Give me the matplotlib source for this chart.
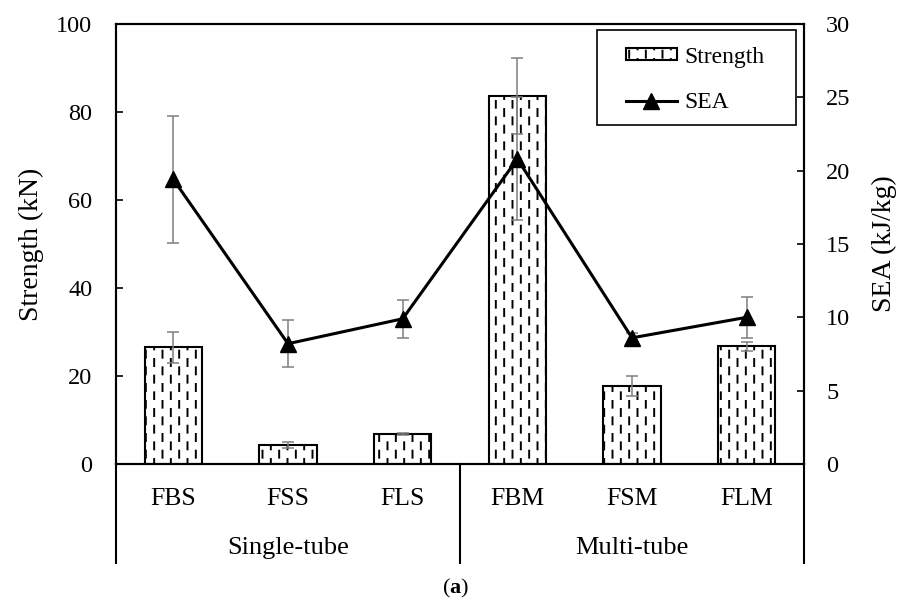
import numpy as np
import matplotlib
matplotlib.use('Agg')
import matplotlib.pyplot as plt
import matplotlib.transforms as mtransforms
from matplotlib import hatch as mhatch
from matplotlib.path import Path
from matplotlib.patches import Patch, Rectangle
from matplotlib.lines import Line2D

specimens = ['FBS', 'FSS', 'FLS', 'FBM', 'FSM', 'FLM']
groups = ['Single-tube', 'Multi-tube']
strength = [26.5, 4.4, 6.8, 83.7, 17.7, 26.7]        # kN
strength_err = [3.5, 0.7, 0.2, 8.6, 2.2, 1.1]
sea = [19.4, 8.2, 9.9, 20.8, 8.6, 10.0]              # kJ/kg
sea_err = [4.35, 1.6, 1.3, 4.2, 0.3, 1.4]


# '|' hatch drawn as short staggered vertical dashes
class DashedVerticalHatch(mhatch.HatchPatternBase):
    def __init__(self, hatch, density):
        self.num_cols = int(hatch.count('|') * density)
        self.num_rows = max(self.num_cols // 2, 1)
        self.num_vertices = self.num_cols * self.num_rows * 2 if self.num_cols else 0

    def set_vertices_and_codes(self, vertices, codes):
        period = 1.0 / self.num_rows
        dash = 0.42 * period
        k = 0
        for i in range(self.num_cols):
            x = (i + 0.5) / self.num_cols
            off = (i % 2) * period / 2
            for r in range(self.num_rows):
                y0 = r * period + off + 0.04 * period
                vertices[k] = (x, y0)
                vertices[k + 1] = (x, y0 + dash)
                codes[k] = Path.MOVETO
                codes[k + 1] = Path.LINETO
                k += 2


mhatch._hatch_types[mhatch._hatch_types.index(mhatch.VerticalHatch)] = DashedVerticalHatch

plt.rcParams['font.family'] = 'Liberation Serif'
plt.rcParams['hatch.linewidth'] = 1.4
plt.rcParams['mathtext.fontset'] = 'custom'
plt.rcParams['mathtext.bf'] = 'Liberation Serif:bold'

x = np.arange(len(specimens))

fig = plt.figure(figsize=(9.05, 6.05), dpi=100)
ax = fig.add_axes([0.1282, 0.2331, 0.7602, 0.7273])

ax.bar(x, strength, width=0.5, color='white', edgecolor='black', linewidth=1.5,
       hatch='||', zorder=2)
ax.errorbar(x, strength, yerr=strength_err, fmt='none', ecolor='#7f7f7f',
            elinewidth=1.1, capsize=4, capthick=1.1, zorder=3)
ax.set_xlim(-0.5, 5.5)
ax.set_ylim(0, 100)
ax.set_yticks(np.arange(0, 101, 20))
ax.set_xticks(x)
ax.set_xticklabels(specimens)
ax.tick_params(axis='x', length=0, labelsize=18.5, pad=17)
ax.tick_params(axis='y', direction='in', length=5, width=1.2, labelsize=17.5, pad=17)
ax.set_ylabel('Strength (kN)', fontsize=20)
ax.yaxis.set_label_coords(-0.104, 0.5)

ax2 = ax.twinx()
ax2.errorbar(x, sea, yerr=sea_err, fmt='none', ecolor='#7f7f7f',
             elinewidth=1.1, capsize=4, capthick=1.1, zorder=2)
ax2.plot(x, sea, color='black', linewidth=2.2, marker='^', markersize=11.5, zorder=3)
ax2.set_ylim(0, 30)
ax2.set_yticks(np.arange(0, 31, 5))
ax2.tick_params(axis='y', direction='in', length=5, width=1.2, labelsize=17.5, pad=16)
ax2.set_ylabel('SEA (kJ/kg)', fontsize=20)
ax2.yaxis.set_label_coords(1.099, 0.5)

for a in (ax, ax2):
    for s in a.spines.values():
        s.set_linewidth(1.5)
        s.set_color('black')

# group boxes under the category labels
trans = mtransforms.blended_transform_factory(ax.transData, ax.transAxes)
for xv in (-0.5, 2.5, 5.5):
    ax.plot([xv, xv], [0, -0.225], transform=trans, color='black',
            linewidth=1.5, clip_on=False)
for gx, name in zip((1, 4), groups):
    ax.text(gx, -0.191, name, transform=trans, ha='center', va='center', fontsize=19)

# legend with a wide square box
ax2.add_patch(Rectangle((0.699, 0.770), 0.289, 0.216, transform=ax2.transAxes,
                        facecolor='white', edgecolor='black', linewidth=1.2, zorder=4))
handles = [Patch(facecolor='white', edgecolor='black', hatch='||', linewidth=1.5),
           Line2D([], [], color='black', linewidth=2.2, marker='^', markersize=11.5)]
leg = ax2.legend(handles, ['Strength', 'SEA'], loc='upper left',
                 bbox_to_anchor=(0.741, 0.948), borderaxespad=0, borderpad=0,
                 frameon=False, fontsize=17, handlelength=2.15, handleheight=0.4,
                 labelspacing=1.02, handletextpad=0.35)
leg.set_zorder(5)

fig.text(0.503, 0.028, r'($\mathbf{a}$)', ha='center', va='center', fontsize=16)

fig.savefig('out.png', dpi=100)
